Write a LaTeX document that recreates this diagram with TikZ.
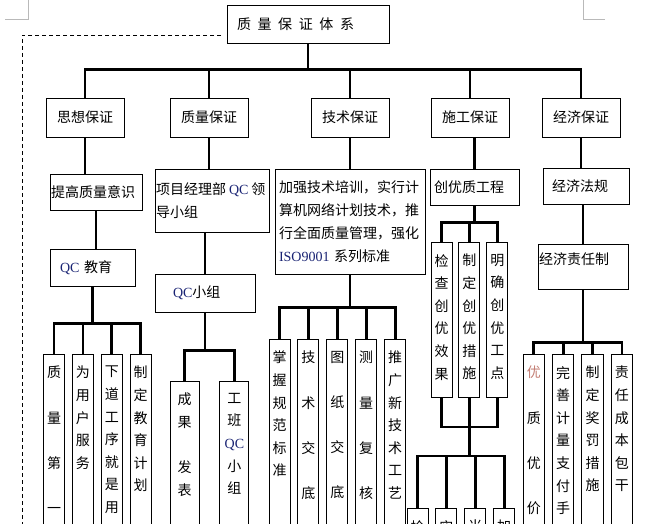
\documentclass[tikz,border=0pt]{standalone}
\usepackage{fontspec}
\setmainfont{Noto Sans CJK SC}
\newfontfamily\tnr{Liberation Serif}
\usetikzlibrary{positioning}
\definecolor{qcblue}{RGB}{25,35,115}
\definecolor{faint}{RGB}{195,125,115}
\newcommand\qc[1]{{\tnr\color{qcblue}#1}}
\newcommand\ksp{\hspace{6.6pt}}
\tikzset{box/.style={draw,line width=0.9pt,inner sep=0pt,font=\fontsize{14}{23}\selectfont},
	head node/.style={box,minimum width=78pt,minimum height=39pt},
	tall node/.style={box,anchor=north,minimum width=21.5pt,minimum height=200pt},
	vtext/.style={anchor=north,align=center,inner xsep=0pt,inner ysep=12pt,font=\fontsize{14}{22.6}\selectfont},
	conn/.style={line width=2.8pt},
	elbow/.style={to path={-| (\tikztotarget)}},
}

\begin{document}
\begin{tikzpicture}[x=1pt,y=-1pt,node distance=7pt]
	\path[use as bounding box,clip] (0,0) rectangle (647,524);
	% page corner marks and dashed frame
	\draw[gray!55,line width=0.8pt] (28,0) -- (28,19) -- (5,19);
	\draw[gray!55,line width=0.8pt] (583,0) -- (583,19) -- (605,19);
	\draw[line width=0.8pt,dash pattern=on 4pt off 3pt] (221,35) -- (22,35) -- (22,530);
	
	\node[box,minimum width=162pt,minimum height=38pt,text width=142pt,inner xsep=10pt,align=left] (0) at (308,24) {质\ksp 量\ksp 保\ksp 证\ksp 体\ksp 系};
	\node[head node] (1) at (85,117.5) {思想保证};
	\node[head node] (2) at (209,117.5) {质量保证};
	\node[head node] (3) at (350,117.5) {技术保证};
	\node[head node] (4) at (470,117.5) {施工保证};
	\node[head node] (5) at (581,117.5) {经济保证};
	
	\draw[conn] (0.south) -- ++(0,26) coordinate (b0);
	\path[draw,conn]
	(b0) edge[elbow] (1.north)
	(b0) edge[elbow] (2.north)
	(b0) edge[elbow] (3.north)
	(b0) edge[elbow] (4.north)
	(b0) edge[elbow] (5.north);
	
	% 思想保证
	\node[box,minimum width=92pt,minimum height=36pt,text width=90pt,inner xsep=1pt,align=left] (11) at (96,192) {提高质量意识};
	\node[box,minimum width=85pt,minimum height=37pt,text width=65pt,inner xsep=10pt,align=left] (12) at (92.5,267.5) {\qc{QC} 教育};
	\node[tall node,label={[vtext]north:{质\\[22.6pt]量\\[22.6pt]第\\[22.6pt]一}}] (121) at (54,354) {};
	\node[tall node,label={[vtext]north:{为\\用\\户\\服\\务}},right=6.5pt of 121] (122) {};
	\node[tall node,label={[vtext]north:{下\\道\\工\\序\\就\\是\\用}},right=6.5pt of 122] (123) {};
	\node[tall node,label={[vtext]north:{制\\定\\教\\育\\计\\划}},right=6.5pt of 123] (124) {};
	\draw[conn] (1.south) -- (1.south |- 11.north);
	\draw[conn] (11.south) -- (11.south |- 12.north);
	\draw[conn] (12.south) -- ++(0,37) coordinate (b1);
	\path[draw,conn]
	(b1) edge[elbow] (121.north)
	(b1) edge[elbow] (122.north)
	(b1) edge[elbow] (123.north)
	(b1) edge[elbow] (124.north);
	
	% 质量保证
	\node[box,minimum width=114pt,minimum height=63pt,text width=112pt,inner xsep=1pt,align=left] (21) at (212,200.5) {\mbox{项目经理部\hspace{3pt}\qc{QC}\hspace{3pt}领}\\导小组};
	\node[box,minimum width=100pt,minimum height=38pt,text width=64pt,inner xsep=18pt,align=left] (22) at (205,293) {\qc{QC}小组};
	\node[tall node,minimum width=29pt,label={[vtext]north:{成\\果\\[22.6pt]发\\表}}] (221) at (184.5,381) {};
	\node[tall node,minimum width=29pt,label={[vtext]north:{工\\班\\\qc{QC}\\小\\组}},right=20pt of 221] (222) {};
	\draw[conn] (2.south) -- (2.south |- 21.north);
	\draw[conn] (22.north |- 21.south) -- (22.north);
	\draw[conn] (22.south) -- ++(0,38) coordinate (b2);
	\path[draw,conn]
	(b2) edge[elbow] (221.north)
	(b2) edge[elbow] (222.north);
	
	% 技术保证
	\node[box,minimum width=150pt,minimum height=105pt,text width=142pt,inner xsep=4pt,align=left] (31) at (350,221.5) {加强技术培训，实行计\\算机网络计划技术，推\\行全面质量管理，强化\\\qc{ISO9001} 系列标准};
	\node[tall node,minimum width=21pt,label={[vtext]north:{掌\\握\\规\\范\\标\\准}}] (311) at (279.5,339) {};
	\node[tall node,minimum width=21pt,label={[vtext]north:{技\\[22.6pt]术\\[22.6pt]交\\[22.6pt]底}},right=7pt of 311] (312) {};
	\node[tall node,minimum width=21pt,label={[vtext]north:{图\\[22.6pt]纸\\[22.6pt]交\\[22.6pt]底}},right=7pt of 312] (313) {};
	\node[tall node,minimum width=21pt,label={[vtext]north:{测\\[22.6pt]量\\[22.6pt]复\\[22.6pt]核}},right=7pt of 313] (314) {};
	\node[tall node,minimum width=21pt,label={[vtext]north:{推\\广\\新\\技\\术\\工\\艺}},right=7pt of 314] (315) {};
	\draw[conn] (3.south) -- (3.south |- 31.north);
	\draw[conn] (31.south) -- ++(0,33) coordinate (b3);
	\path[draw,conn]
	(b3) edge[elbow] (311.north)
	(b3) edge[elbow] (312.north)
	(b3) edge[elbow] (313.north)
	(b3) edge[elbow] (314.north)
	(b3) edge[elbow] (315.north);
	
	% 施工保证
	\node[box,minimum width=85pt,minimum height=36pt,text width=81pt,inner xsep=4pt,align=left] (41) at (474.5,187) {创优质工程};
	\node[tall node,minimum width=21pt,minimum height=155pt,label={[vtext]north:{检\\查\\创\\优\\效\\果}}] (411) at (441.5,242) {};
	\node[tall node,minimum width=21pt,minimum height=155pt,label={[vtext]north:{制\\定\\创\\优\\措\\施}},right=6pt of 411] (412) {};
	\node[tall node,minimum width=21pt,minimum height=155pt,label={[vtext]north:{明\\确\\创\\优\\工\\点}},right=6pt of 412] (413) {};
	\node[tall node,minimum width=21pt,label={[vtext]north:{检}}] (421) at (417.5,508) {};
	\node[tall node,minimum width=21pt,label={[vtext]north:{实}},right=7pt of 421] (422) {};
	\node[tall node,minimum width=21pt,label={[vtext]north:{当}},right=7pt of 422] (423) {};
	\node[tall node,minimum width=21pt,label={[vtext]north:{加}},right=7pt of 423] (424) {};
	\draw[conn] (41.north |- 4.south) -- (41.north);
	\draw[conn] (41.south) -- ++(0,17) coordinate (b4);
	\path[draw,conn]
	(b4) edge[elbow] (411.north)
	(b4) edge[elbow] (412.north)
	(b4) edge[elbow] (413.north);
	\draw[conn] (412.south) -- ++(0,29) coordinate (b41);
	\draw[conn] (411.south) |- (b41) -| (413.south);
	\draw[conn] (b41) -- ++(0,29) coordinate (b42);
	\path[draw,conn]
	(b42) edge[elbow] (421.north)
	(b42) edge[elbow] (422.north)
	(b42) edge[elbow] (423.north)
	(b42) edge[elbow] (424.north);
	
	% 经济保证
	\node[box,minimum width=86pt,minimum height=36pt,text width=68pt,inner xsep=9pt,align=left] (51) at (586,186) {经济法规};
	\node[box,minimum width=90pt,inner xsep=1pt,inner ysep=5pt,text width=88pt,text height=15pt,text depth=20pt,align=left] (52) at (583,266.5) {经济责任制};
	\node[tall node,label={[vtext]north:{\textcolor{faint}{优}\\[22.6pt]质\\[22.6pt]优\\[22.6pt]价}}] (521) at (533.75,354) {};
	\node[tall node,label={[vtext]north:{完\\善\\计\\量\\支\\付\\手}},right=7pt of 521] (522) {};
	\node[tall node,label={[vtext]north:{制\\定\\奖\\罚\\措\\施}},right=7pt of 522] (523) {};
	\node[tall node,label={[vtext]north:{责\\任\\成\\本\\包\\干}},right=7pt of 523] (524) {};
	\draw[conn] (5.south) -- (5.south |- 51.north);
	\draw[conn] (52.north |- 51.south) -- (52.north);
	\draw[conn] (52.south) -- ++(0,53) coordinate (b5);
	\path[draw,conn]
	(b5) edge[elbow] (521.north)
	(b5) edge[elbow] (522.north)
	(b5) edge[elbow] (523.north)
	(b5) edge[elbow] (524.north);
\end{tikzpicture}
\end{document}
